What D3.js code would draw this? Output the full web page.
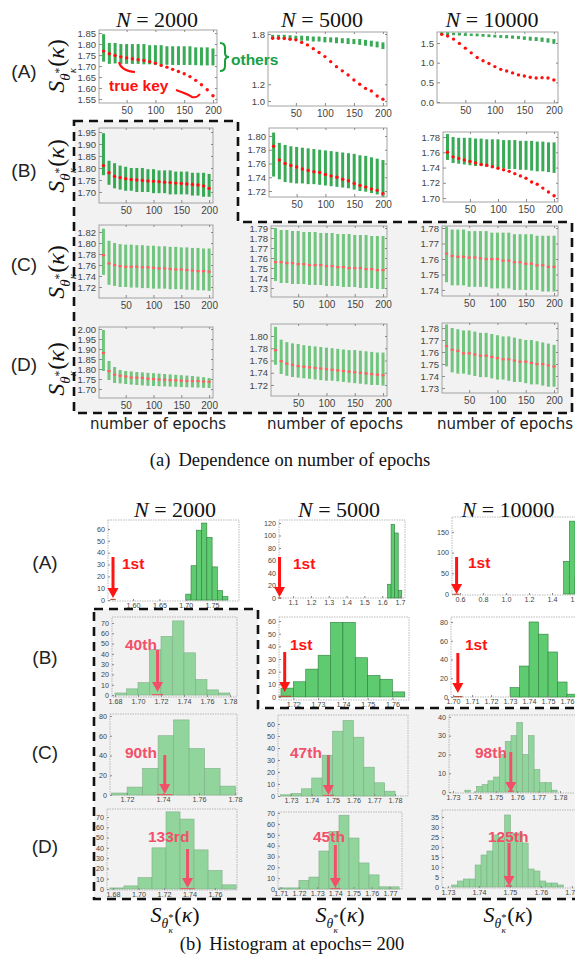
<!DOCTYPE html>
<html><head><meta charset="utf-8">
<script src="https://cdn.jsdelivr.net/npm/d3@7"></script>
<style>body{margin:0;background:#fff}svg{display:block}</style>
</head><body>
<svg id="c" width="575" height="961"></svg>
<script>
// ===================== DATA =====================
const epochs = [10,20,30,40,50,60,70,80,90,100,110,120,130,140,150,160,170,180,190,200];
const epochTicks = [50,100,150,200];
const columnsN = ["2000","5000","10000"];
const rowsAB = ["(A)","(B)","(C)","(D)"];

// (a) true key score (red) and range of other keys (green) per epoch
const keyA2000 = [1.768,1.756,1.748,1.742,1.737,1.733,1.729,1.725,1.720,1.713,1.703,1.695,1.685,1.675,1.665,1.652,1.635,1.615,1.592,1.565];
const hiA2000  = [1.845,1.805,1.805,1.800,1.800,1.800,1.800,1.800,1.795,1.795,1.795,1.790,1.790,1.790,1.790,1.790,1.785,1.785,1.785,1.780];
const loA2000  = [1.720,1.710,1.712,1.710,1.710,1.710,1.710,1.708,1.708,1.706,1.706,1.706,1.705,1.705,1.705,1.705,1.704,1.703,1.703,1.703];
const keyA5000 = [1.749,1.749,1.747,1.737,1.730,1.700,1.670,1.625,1.580,1.530,1.470,1.410,1.360,1.310,1.250,1.200,1.150,1.120,1.060,1.020];
const hiA5000  = [1.790,1.790,1.790,1.785,1.780,1.780,1.775,1.770,1.770,1.765,1.760,1.760,1.750,1.750,1.740,1.740,1.730,1.720,1.710,1.700];
const loA5000  = [1.740,1.740,1.740,1.730,1.730,1.720,1.720,1.710,1.710,1.700,1.700,1.690,1.690,1.680,1.680,1.670,1.660,1.650,1.640,1.620];
const keyA10000 = [1.72,1.68,1.60,1.49,1.37,1.25,1.13,1.05,0.98,0.90,0.83,0.79,0.74,0.69,0.66,0.63,0.61,0.62,0.61,0.56];
const hiA10000  = [1.77,1.77,1.76,1.76,1.75,1.74,1.74,1.73,1.72,1.71,1.70,1.70,1.69,1.68,1.67,1.66,1.65,1.64,1.62,1.60];
const loA10000  = [1.70,1.70,1.70,1.69,1.68,1.68,1.67,1.66,1.65,1.64,1.63,1.62,1.61,1.60,1.58,1.56,1.55,1.53,1.51,1.48];

const keyB2000 = [1.810,1.780,1.765,1.760,1.755,1.752,1.750,1.748,1.746,1.745,1.743,1.741,1.739,1.737,1.735,1.733,1.731,1.729,1.725,1.715];
const hiB2000  = [1.945,1.830,1.820,1.810,1.805,1.800,1.800,1.800,1.795,1.795,1.790,1.790,1.790,1.785,1.785,1.785,1.780,1.780,1.780,1.775];
const loB2000  = [1.770,1.730,1.715,1.710,1.705,1.705,1.700,1.700,1.700,1.695,1.695,1.695,1.690,1.690,1.690,1.690,1.685,1.685,1.680,1.680];
const keyB5000 = [1.785,1.765,1.760,1.757,1.755,1.752,1.750,1.748,1.747,1.744,1.742,1.740,1.737,1.735,1.731,1.728,1.726,1.723,1.721,1.716];
const hiB5000  = [1.805,1.790,1.787,1.785,1.784,1.783,1.782,1.781,1.780,1.779,1.778,1.777,1.776,1.775,1.774,1.772,1.771,1.769,1.767,1.765];
const loB5000  = [1.741,1.737,1.733,1.732,1.731,1.731,1.730,1.730,1.729,1.728,1.727,1.726,1.725,1.724,1.722,1.720,1.719,1.717,1.715,1.712];
const keyB10000 = [1.760,1.754,1.752,1.750,1.748,1.746,1.744,1.743,1.741,1.739,1.737,1.735,1.732,1.729,1.726,1.721,1.718,1.713,1.708,1.703];
const hiB10000  = [1.784,1.780,1.779,1.779,1.779,1.778,1.778,1.777,1.777,1.777,1.776,1.776,1.776,1.775,1.775,1.775,1.774,1.774,1.773,1.773];
const loB10000  = [1.750,1.746,1.745,1.744,1.743,1.742,1.742,1.741,1.740,1.740,1.739,1.738,1.738,1.737,1.737,1.736,1.735,1.735,1.734,1.733];

const keyC2000 = [1.778,1.763,1.760,1.758,1.757,1.757,1.757,1.756,1.756,1.755,1.754,1.754,1.753,1.752,1.752,1.751,1.750,1.749,1.749,1.748];
const hiC2000  = [1.826,1.804,1.800,1.798,1.797,1.797,1.796,1.796,1.795,1.795,1.794,1.794,1.793,1.793,1.792,1.792,1.791,1.791,1.790,1.790];
const loC2000  = [1.742,1.724,1.722,1.720,1.720,1.719,1.719,1.718,1.718,1.717,1.717,1.717,1.716,1.716,1.716,1.715,1.715,1.714,1.714,1.713];
const keyC5000 = [1.756,1.756,1.755,1.755,1.754,1.754,1.753,1.753,1.753,1.752,1.752,1.751,1.751,1.750,1.750,1.750,1.749,1.749,1.748,1.748];
const hiC5000  = [1.790,1.788,1.788,1.787,1.787,1.786,1.786,1.786,1.785,1.785,1.785,1.784,1.784,1.784,1.783,1.783,1.783,1.782,1.782,1.782];
const loC5000  = [1.737,1.735,1.735,1.734,1.734,1.734,1.733,1.733,1.733,1.732,1.732,1.732,1.731,1.731,1.731,1.730,1.730,1.730,1.729,1.729];
const keyC10000 = [1.7635,1.762,1.7615,1.7615,1.761,1.761,1.7605,1.760,1.760,1.760,1.759,1.759,1.758,1.758,1.757,1.757,1.756,1.756,1.755,1.755];
const hiC10000  = [1.781,1.779,1.779,1.779,1.778,1.778,1.778,1.778,1.777,1.777,1.777,1.777,1.776,1.776,1.776,1.776,1.775,1.775,1.775,1.775];
const loC10000  = [1.745,1.743,1.743,1.743,1.742,1.742,1.742,1.742,1.741,1.741,1.741,1.741,1.740,1.740,1.740,1.740,1.740,1.739,1.739,1.739];

const keyD2000 = [1.880,1.790,1.772,1.767,1.763,1.758,1.757,1.756,1.752,1.750,1.748,1.747,1.745,1.744,1.742,1.741,1.740,1.740,1.738,1.737];
const hiD2000  = [1.995,1.840,1.810,1.795,1.790,1.788,1.785,1.783,1.781,1.779,1.777,1.775,1.773,1.771,1.769,1.767,1.765,1.762,1.759,1.755];
const loD2000  = [1.790,1.745,1.730,1.728,1.725,1.722,1.720,1.718,1.716,1.715,1.714,1.713,1.712,1.711,1.710,1.709,1.708,1.707,1.706,1.705];
const keyD5000 = [1.777,1.759,1.755,1.753,1.751,1.750,1.749,1.748,1.747,1.746,1.745,1.744,1.743,1.742,1.741,1.740,1.739,1.738,1.737,1.736];
const hiD5000  = [1.815,1.794,1.790,1.788,1.787,1.785,1.784,1.783,1.782,1.781,1.780,1.779,1.778,1.777,1.777,1.776,1.775,1.774,1.773,1.773];
const loD5000  = [1.753,1.738,1.735,1.733,1.732,1.731,1.730,1.729,1.728,1.727,1.727,1.726,1.725,1.724,1.723,1.722,1.721,1.720,1.720,1.719];
const keyD10000 = [1.765,1.762,1.761,1.759,1.759,1.758,1.757,1.757,1.756,1.755,1.754,1.754,1.753,1.752,1.752,1.751,1.750,1.750,1.749,1.748];
const hiD10000  = [1.783,1.780,1.779,1.778,1.778,1.777,1.776,1.776,1.775,1.774,1.773,1.773,1.772,1.771,1.770,1.770,1.769,1.768,1.767,1.766];
const loD10000  = [1.748,1.743,1.742,1.742,1.741,1.740,1.739,1.739,1.738,1.737,1.737,1.736,1.735,1.735,1.734,1.733,1.733,1.732,1.731,1.731];

// (a) y tick labels (labels hidden behind the "others" note are left out)
const yTicksA2000 = [1.55,1.60,1.65,1.70,1.75,1.80,1.85];
const yTicksA5000 = [1.0,1.2,1.8];
const yTicksA10000 = [0.0,0.5,1.0,1.5];
const yTicksB2000 = [1.70,1.75,1.80,1.85,1.90,1.95];
const yTicksB5000 = [1.72,1.74,1.76,1.78,1.80];
const yTicksB10000 = [1.70,1.72,1.74,1.76,1.78];
const yTicksC2000 = [1.72,1.74,1.76,1.78,1.80,1.82];
const yTicksC5000 = [1.73,1.74,1.75,1.76,1.77,1.78,1.79];
const yTicksC10000 = [1.74,1.75,1.76,1.77,1.78];
const yTicksD2000 = [1.70,1.75,1.80,1.85,1.90,1.95,2.00];
const yTicksD5000 = [1.72,1.74,1.76,1.78,1.80];
const yTicksD10000 = [1.73,1.74,1.75,1.76,1.77,1.78];

// (b) histograms at epoch 200: [bin start, bin width] and counts
const binsA2000 = [1.70, 0.01];   const countsA2000 = [5,29,59,65,53,28,8,3];
const binsA5000 = [1.63, 0.02];   const countsA5000 = [22,118,104,12];
const binsA10000 = [1.50, 0.05];  const countsA10000 = [79,176,40];
const binsB2000 = [1.68, 0.01];   const countsB2000 = [2,6,12,44,57,72,41,15,5,2];
const binsB5000 = [1.715, 0.005]; const countsB5000 = [7,12,22,33,59,59,31,17,14,4];
const binsB10000 = [1.73, 0.005]; const countsB10000 = [10,33,80,67,48,16,3];
const binsC2000 = [1.7115, 0.0086]; const countsC2000 = [2,8,27,60,76,47,27,9];
const binsC5000 = [1.725, 0.005]; const countsC5000 = [1,2,6,15,34,54,63,49,24,11,4];
const binsC10000 = [1.7355, 0.0027]; const countsC10000 = [1,0,3,4,6,8,20,27,30,37,20,30,12,5,5,1];
const binsD2000 = [1.6776, 0.011]; const countsD2000 = [1,3,11,40,75,68,38,18,4];
const binsD5000 = [1.709, 0.0055]; const countsD5000 = [1,1,8,11,35,53,68,47,24,13,2,2];
const binsD10000 = [1.7312, 0.0019]; const countsD10000 = [1,3,4,4,11,16,18,26,25,36,27,27,22,9,8,3,2,2,1];
// true key score and its rank
const trueKeyHist = {A2000:1.562,A5000:1.024,A10000:0.57,B2000:1.717,B5000:1.7165,B10000:1.7025,
  C2000:1.741,C5000:1.748,C10000:1.757,D2000:1.7385,D5000:1.740,D10000:1.7497};
const rankLabels = {A2000:"1st",A5000:"1st",A10000:"1st",B2000:"40th",B5000:"1st",B10000:"1st",
  C2000:"90th",C5000:"47th",C10000:"98th",D2000:"133rd",D5000:"45th",D10000:"125th"};
// histogram tick labels
const hx = {
  A2000:[1.60,1.65,1.70,1.75], A5000:[1.1,1.2,1.3,1.4,1.5,1.6,1.7], A10000:[0.6,0.8,1.0,1.2,1.4,1.6],
  B2000:[1.68,1.70,1.72,1.74,1.76,1.78], B5000:[1.72,1.73,1.74,1.75,1.76], B10000:[1.70,1.71,1.72,1.73,1.74,1.75,1.76],
  C2000:[1.72,1.74,1.76,1.78], C5000:[1.73,1.74,1.75,1.76,1.77,1.78], C10000:[1.73,1.74,1.75,1.76,1.77,1.78],
  D2000:[1.68,1.70,1.72,1.74,1.76], D5000:[1.71,1.72,1.73,1.74,1.75,1.76,1.77], D10000:[1.73,1.74,1.75,1.76,1.77]};
const hy = {
  A2000:[0,10,20,30,40,50,60], A5000:[0,20,40,60,80,100,120], A10000:[0,50,100,150],
  B2000:[0,10,20,30,40,50,60,70], B5000:[0,10,20,30,40,50,60], B10000:[0,20,40,60,80],
  C2000:[0,20,40,60,80], C5000:[0,10,20,30,40,50,60], C10000:[0,10,20,30,40],
  D2000:[0,10,20,30,40,50,60,70], D5000:[0,10,20,30,40,50,60,70], D10000:[0,5,10,15,20,25,30,35]};

// ===================== LAYOUT =====================
const W = 575, H = 961;
const svg = d3.select('#c');
const GRAY = '#f2f2f2';
const SANS = "'Liberation Sans', Arial, sans-serif";
const SERIF = "'Liberation Serif', 'DejaVu Serif', serif";
const epochDomain = [2, 207];

const LA = {
  A2000:{x0:99,x1:217,y0:30,y1:103,yd:[1.532,1.864],f:'.2f'},
  A5000:{x0:268,x1:387,y0:32,y1:106,yd:[0.94,1.824],f:'.1f'},
  A10000:{x0:437,x1:558,y0:32,y1:103,yd:[-0.025,1.78],f:'.1f'},
  B2000:{x0:99,x1:213,y0:128,y1:203,yd:[1.654,1.9667],f:'.2f'},
  B5000:{x0:269,x1:387,y0:128,y1:197,yd:[1.7113,1.8116],f:'.2f'},
  B10000:{x0:443,x1:558,y0:132,y1:202,yd:[1.6948,1.7866],f:'.2f'},
  C2000:{x0:99,x1:213,y0:225,y1:298,yd:[1.70,1.8327],f:'.2f'},
  C5000:{x0:271,x1:387,y0:226,y1:297,yd:[1.721,1.792],f:'.2f'},
  C10000:{x0:442,x1:558,y0:226,y1:296,yd:[1.7361,1.7813],f:'.2f'},
  D2000:{x0:99,x1:213,y0:327,y1:398,yd:[1.655,2.01],f:'.2f'},
  D5000:{x0:271,x1:387,y0:324,y1:396,yd:[1.702,1.8196],f:'.2f'},
  D10000:{x0:442,x1:558,y0:323,y1:393,yd:[1.7258,1.7842],f:'.2f'}
};
const LB = {
  A2000:{x0:108,x1:239,y0:520,y1:601,xd:[1.5525,1.801],yd:[-0.8,67.6],f:'.2f',ay:[557,598],lx:122,ly:569},
  A5000:{x0:279,x1:405,y0:520,y1:598,xd:[1.021,1.728],yd:[0,124.8],f:'.1f',ay:[557,597],lx:293,ly:569},
  A10000:{x0:452,x1:610,y0:517,y1:595,xd:[0.53,1.904],yd:[-2.4,186],f:'.1f',ay:[557,594],lx:468,ly:568},
  B2000:{x0:112,x1:237,y0:617,y1:697,xd:[1.6774,1.7861],yd:[-1.9,75.8],f:'.2f',ay:[650,692],lx:125,ly:650},
  B5000:{x0:279,x1:409,y0:617,y1:700,xd:[1.7142,1.7667],yd:[-2.4,63.2],f:'.2f',ay:[652,692],lx:290,ly:650},
  B10000:{x0:451,x1:610,y0:617,y1:697,xd:[1.6989,1.7826],yd:[0,85.3],f:'.2f',ay:[653,693],lx:465,ly:650},
  C2000:{x0:110,x1:237,y0:714,y1:795,xd:[1.7106,1.7811],yd:[0,82],f:'.2f',ay:[755,794],lx:125,ly:758},
  C5000:{x0:278,x1:408,y0:715,y1:796,xd:[1.7238,1.7862],yd:[0,67.5],f:'.2f',ay:[755,795],lx:290,ly:758},
  C10000:{x0:449,x1:610,y0:715,y1:793,xd:[1.7281,1.8034],yd:[-0.5,41],f:'.2f',ay:[752,792],lx:475,ly:758},
  D2000:{x0:107,x1:237,y0:809,y1:890,xd:[1.6753,1.7773],yd:[-1,77.8],f:'.2f',ay:[849,888],lx:148,ly:842},
  D5000:{x0:278,x1:402,y0:812,y1:889,xd:[1.7085,1.7766],yd:[0,71],f:'.2f',ay:[845,888],lx:313,ly:842},
  D10000:{x0:442,x1:610,y0:810,y1:888,xd:[1.7281,1.7823],yd:[-0.5,38.5],f:'.2f',ay:[843,886],lx:488,ly:842}
};

// ===================== BACKGROUND REGIONS =====================
svg.append('rect').attr('width',W).attr('height',H).attr('fill','#fff');
function region(pts){
  svg.append('path').attr('d','M'+pts.map(p=>p.join(',')).join('L')+'Z')
    .attr('fill',GRAY).attr('stroke','#111').attr('stroke-width',2.6).attr('stroke-dasharray','9,6');
}
region([[74,121],[238,121],[238,222],[572,222],[572,413],[74,413]]);
region([[94,609],[258,609],[258,708],[590,708],[590,899],[94,899]]);

// ===================== HELPERS =====================
function styleAxis(g, fs, col){
  g.select('.domain').remove();
  g.selectAll('line').attr('stroke','#8a8a8a');
  g.selectAll('text').attr('font-family',SANS).attr('font-size',fs).attr('fill',col);
}
function mathLabel(x, y, fs, rot){
  const t = svg.append('text').attr('transform',`translate(${x},${y}) rotate(${rot})`)
    .attr('text-anchor','middle').attr('font-family',SERIF).attr('fill','#111');
  t.append('tspan').text('S').attr('font-style','italic').attr('font-size',fs);
  t.append('tspan').text('θ').attr('font-style','italic').attr('font-size',fs*0.62).attr('dy',fs*0.26);
  t.append('tspan').text('*').attr('font-size',fs*0.48).attr('dy',-fs*0.3);
  t.append('tspan').text('κ').attr('font-style','italic').attr('font-size',fs*0.42).attr('dx',-fs*0.22).attr('dy',fs*0.52);
  t.append('tspan').text('(').attr('font-size',fs).attr('dx',fs*0.06).attr('dy',-fs*0.48);
  t.append('tspan').text('κ').attr('font-style','italic').attr('font-size',fs);
  t.append('tspan').text(')').attr('font-size',fs);
}
function nTitle(cx, y, label){
  const t = svg.append('text').attr('x',cx).attr('y',y).attr('text-anchor','middle')
    .attr('font-family',SERIF).attr('font-size',22).attr('fill','#111');
  t.append('tspan').text('N').attr('font-style','italic');
  t.append('tspan').text(' = ' + label);
}

// ===================== (a) SCATTER PANELS =====================
const dataA = {
  A2000:[keyA2000,hiA2000,loA2000,yTicksA2000], A5000:[keyA5000,hiA5000,loA5000,yTicksA5000], A10000:[keyA10000,hiA10000,loA10000,yTicksA10000],
  B2000:[keyB2000,hiB2000,loB2000,yTicksB2000], B5000:[keyB5000,hiB5000,loB5000,yTicksB5000], B10000:[keyB10000,hiB10000,loB10000,yTicksB10000],
  C2000:[keyC2000,hiC2000,loC2000,yTicksC2000], C5000:[keyC5000,hiC5000,loC5000,yTicksC5000], C10000:[keyC10000,hiC10000,loC10000,yTicksC10000],
  D2000:[keyD2000,hiD2000,loD2000,yTicksD2000], D5000:[keyD5000,hiD5000,loD5000,yTicksD5000], D10000:[keyD10000,hiD10000,loD10000,yTicksD10000]
};
const grayA = new Set(['B2000','C2000','C5000','C10000','D2000','D5000','D10000']);
const paleA = new Set(['C2000','C5000','C10000','D2000','D5000','D10000']);
Object.keys(LA).forEach(k=>{
  const L = LA[k], [key,hi,lo,yt] = dataA[k];
  const x = d3.scaleLinear().domain(epochDomain).range([L.x0,L.x1]);
  const y = d3.scaleLinear().domain(L.yd).range([L.y1,L.y0]);
  const pale = paleA.has(k);
  const g = svg.append('g');
  g.append('rect').attr('x',L.x0).attr('y',L.y0).attr('width',L.x1-L.x0).attr('height',L.y1-L.y0)
    .attr('fill',grayA.has(k)?GRAY:'#fff').attr('stroke','#9a9a9a').attr('stroke-width',0.9);
  g.append('g').selectAll('rect').data(epochs).join('rect')
    .attr('x',d=>x(d)-1.5).attr('width',3)
    .attr('y',(d,i)=>y(hi[i])).attr('height',(d,i)=>y(lo[i])-y(hi[i]))
    .attr('fill',pale?'#5cbd6a':'#1e9e3e').attr('opacity',pale?0.85:0.88);
  if(pale){
    g.append('g').selectAll('rect').data(epochs).join('rect')
      .attr('x',d=>x(d)-1.6).attr('width',3.2).attr('y',(d,i)=>y(key[i])-1).attr('height',2.2)
      .attr('fill','#ff6060');
  } else {
    g.append('g').selectAll('circle').data(epochs).join('circle')
      .attr('cx',d=>x(d)).attr('cy',(d,i)=>y(key[i])).attr('r',1.7).attr('fill','#ff1010');
  }
  const ax = g.append('g').attr('transform',`translate(0,${L.y1})`)
    .call(d3.axisBottom(x).tickValues(epochTicks).tickSizeInner(-3).tickSizeOuter(0).tickPadding(4));
  styleAxis(ax, 10, '#444');
  const ay = g.append('g').attr('transform',`translate(${L.x0},0)`)
    .call(d3.axisLeft(y).tickValues(yt).tickFormat(d3.format(L.f)).tickSizeInner(-3).tickSizeOuter(0).tickPadding(3));
  styleAxis(ay, 9.5, '#444');
  const ar = g.append('g').attr('transform',`translate(${L.x1},0)`)
    .call(d3.axisRight(y).tickValues(yt).tickFormat('').tickSizeInner(-2).tickSizeOuter(0));
  styleAxis(ar, 9, '#444');
  const at = g.append('g').attr('transform',`translate(0,${L.y0})`)
    .call(d3.axisTop(x).tickValues(epochTicks).tickFormat('').tickSizeInner(-2).tickSizeOuter(0));
  styleAxis(at, 9, '#444');
});

// (a) annotations
svg.append('path').attr('d','M220,43 q5,0 5,5 v5 q0,4 4,4 q-4,0 -4,4 v5 q0,5 -5,5')
  .attr('fill','none').attr('stroke','#17a03a').attr('stroke-width',2);
svg.append('text').attr('x',231).attr('y',65).text('others').attr('font-family',SANS)
  .attr('font-weight','bold').attr('font-size',15.5).attr('fill','#17a045');
svg.append('text').attr('x',109).attr('y',91).text('true key').attr('font-family',SANS)
  .attr('font-weight','bold').attr('font-size',15.5).attr('fill','#ff1010');
svg.append('path').attr('d','M119,62 Q121,71 135,72').attr('fill','none').attr('stroke','#ff1010').attr('stroke-width',2);
svg.append('path').attr('d','M176,90 Q190,95 192,97 Q197,98 200,94').attr('fill','none').attr('stroke','#ff1010').attr('stroke-width',2);

// (a) titles and labels
nTitle(157,27,columnsN[0]); nTitle(322,27,columnsN[1]); nTitle(492,27,columnsN[2]);
[[71,0],[170,1],[264,2],[364,3]].forEach(([yy,i])=>{
  svg.append('text').attr('x',24).attr('y',yy+7).attr('text-anchor','middle').text(rowsAB[i])
    .attr('font-family',SANS).attr('font-size',19).attr('fill','#222');
});
[66,166,272,369].forEach(cy=>mathLabel(64,cy,24,-90));
[158,335,505].forEach(cx=>{
  svg.append('text').attr('x',cx).attr('y',429).attr('text-anchor','middle').text('number of epochs')
    .attr('font-family',"'DejaVu Sans', sans-serif").attr('font-size',15).attr('fill','#222');
});
{
  const t = svg.append('text').attr('x',290).attr('y',466).attr('text-anchor','middle')
    .attr('font-family',SERIF).attr('font-size',18.5).attr('fill','#111');
  t.append('tspan').text('(a)');
  t.append('tspan').attr('dx',8).text('Dependence on number of epochs');
}

// ===================== (b) HISTOGRAMS =====================
const dataB = {
  A2000:[binsA2000,countsA2000], A5000:[binsA5000,countsA5000], A10000:[binsA10000,countsA10000],
  B2000:[binsB2000,countsB2000], B5000:[binsB5000,countsB5000], B10000:[binsB10000,countsB10000],
  C2000:[binsC2000,countsC2000], C5000:[binsC5000,countsC5000], C10000:[binsC10000,countsC10000],
  D2000:[binsD2000,countsD2000], D5000:[binsD5000,countsD5000], D10000:[binsD10000,countsD10000]
};
const grayB = new Set(['B2000','C2000','C5000','C10000','D2000','D5000','D10000']);
Object.keys(LB).forEach(k=>{
  const L = LB[k], [bins,counts] = dataB[k];
  const pale = grayB.has(k);
  const x = d3.scaleLinear().domain(L.xd).range([L.x0,L.x1]);
  const y = d3.scaleLinear().domain(L.yd).range([L.y1,L.y0]);
  const g = svg.append('g');
  g.append('rect').attr('x',L.x0).attr('y',L.y0).attr('width',L.x1-L.x0).attr('height',L.y1-L.y0)
    .attr('fill',pale?GRAY:'#fff').attr('stroke','#a8a8a8').attr('stroke-width',0.8).attr('stroke-dasharray','1.5,1');
  const bars = counts.map((c,i)=>({a:bins[0]+i*bins[1], b:bins[0]+(i+1)*bins[1], c}));
  g.append('g').selectAll('rect').data(bars.filter(d=>d.c>0)).join('rect')
    .attr('x',d=>x(d.a)).attr('width',d=>x(d.b)-x(d.a))
    .attr('y',d=>y(d.c)).attr('height',d=>y(0)-y(d.c))
    .attr('fill',pale?'#92d59c':'#5fcb70').attr('stroke',pale?'#7fae87':'#2f7f3c').attr('stroke-width',0.6);
  const kv = trueKeyHist[k];
  g.append('rect').attr('x',x(kv-bins[1]/2)).attr('width',x(kv+bins[1]/2)-x(kv-bins[1]/2))
    .attr('y',y(1)).attr('height',Math.max(1.2,y(0)-y(1))).attr('fill',pale?'#e0606a':'#b5503a');
  const ax = g.append('g').attr('transform',`translate(0,${L.y1})`)
    .call(d3.axisBottom(x).tickValues(hx[k]).tickFormat(d3.format(L.f)).tickSizeInner(-2).tickSizeOuter(0).tickPadding(2));
  styleAxis(ax, 7.2, '#444');
  const ay = g.append('g').attr('transform',`translate(${L.x0},0)`)
    .call(d3.axisLeft(y).tickValues(hy[k]).tickSizeInner(-2).tickSizeOuter(0).tickPadding(3));
  styleAxis(ay, 7.2, '#444');
  const col = pale ? '#f2506a' : '#ff1414';
  const ax0 = x(kv);
  g.append('line').attr('x1',ax0).attr('x2',ax0).attr('y1',L.ay[0]).attr('y2',L.ay[1]-9)
    .attr('stroke',col).attr('stroke-width',3);
  g.append('path').attr('d',`M${ax0-5.5},${L.ay[1]-10} L${ax0+5.5},${L.ay[1]-10} L${ax0},${L.ay[1]} Z`).attr('fill',col);
  g.append('text').attr('x',L.lx).attr('y',L.ly).text(rankLabels[k]).attr('font-family',SANS)
    .attr('font-weight','bold').attr('font-size',15.5).attr('fill',col);
});

// (b) titles & labels
nTitle(175,517,columnsN[0]); nTitle(339,517,columnsN[1]); nTitle(508,517,columnsN[2]);
[[562,0],[657,1],[752,2],[846,3]].forEach(([yy,i])=>{
  svg.append('text').attr('x',45).attr('y',yy+7).attr('text-anchor','middle').text(rowsAB[i])
    .attr('font-family',SANS).attr('font-size',19).attr('fill','#222');
});
[175,340,508].forEach(cx=>mathLabel(cx,922,22,0));
{
  const t = svg.append('text').attr('x',292).attr('y',950).attr('text-anchor','middle')
    .attr('font-family',SERIF).attr('font-size',18.5).attr('fill','#111');
  t.append('tspan').text('(b)');
  t.append('tspan').attr('dx',8).text('Histogram at epochs= 200');
}
</script>
</body></html>
